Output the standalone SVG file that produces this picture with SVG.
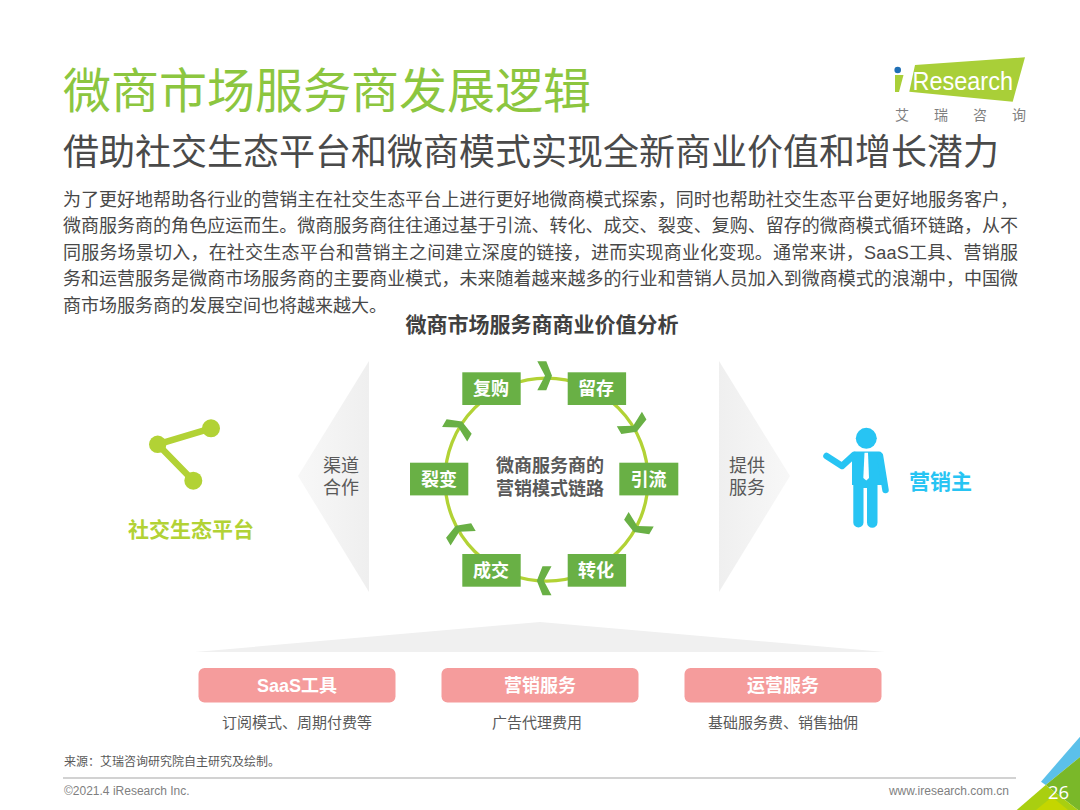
<svg xmlns="http://www.w3.org/2000/svg" width="1080" height="810" viewBox="0 0 1080 810">
<defs>
<style>
text{font-family:"Liberation Sans","Noto Sans CJK SC",sans-serif}
.b{font-size:18px;fill:#484848}
.bw{font-size:18px;font-weight:700;fill:#fff;text-anchor:middle}
.g{font-size:18px;fill:#595959;text-anchor:middle}
.s{font-size:15px;fill:#595959;text-anchor:middle}
.box{fill:#69b045}
.pink{fill:#f59c9c}
</style>
<linearGradient id="gl" x1="0" x2="1" y1="0" y2="0"><stop offset="0" stop-color="#f0f0f0" stop-opacity="0.5"/><stop offset="1" stop-color="#efefef"/></linearGradient>
<linearGradient id="gr" x1="1" x2="0" y1="0" y2="0"><stop offset="0" stop-color="#f0f0f0" stop-opacity="0.5"/><stop offset="1" stop-color="#efefef"/></linearGradient>
<polygon id="chev" points="537.3,361.2 546.3,361.2 552,375.7 546.3,390.2 537.3,390.2 545,375.7" fill="#69b045"/>
</defs>
<rect width="1080" height="810" fill="#fff"/>
<g id="header">
<text x="63" y="107.5" font-size="48" fill="#8cc63f">微商市场服务商发展逻辑</text>
<text x="63" y="165" font-size="36" fill="#4a4a4a">借助社交生态平台和微商模式实现全新商业价值和增长潜力</text>
<text class="b" x="63" y="205.5" textLength="955" lengthAdjust="spacing">为了更好地帮助各行业的营销主在社交生态平台上进行更好地微商模式探索，同时也帮助社交生态平台更好地服务客户，</text>
<text class="b" x="63" y="232" textLength="955" lengthAdjust="spacing">微商服务商的角色应运而生。微商服务商往往通过基于引流、转化、成交、裂变、复购、留存的微商模式循环链路，从不</text>
<text class="b" x="63" y="258.5" textLength="955" lengthAdjust="spacing">同服务场景切入，在社交生态平台和营销主之间建立深度的链接，进而实现商业化变现。通常来讲，SaaS工具、营销服</text>
<text class="b" x="63" y="285" textLength="955" lengthAdjust="spacing">务和运营服务是微商市场服务商的主要商业模式，未来随着越来越多的行业和营销人员加入到微商模式的浪潮中，中国微</text>
<text class="b" x="63" y="311.5">商市场服务商的发展空间也将越来越大。</text>
<text x="542" y="332" font-size="21" font-weight="700" fill="#404040" text-anchor="middle">微商市场服务商商业价值分析</text>
</g>
<g id="logo">
<polygon points="915,65 1025,57.3 1012.7,101.7 909.3,91.7" fill="#a9cf38"/>
<polygon points="895,75 903.5,75 899,92 895,92" fill="#a9cf38"/>
<circle cx="897.7" cy="70" r="3.3" fill="#1f6fb5"/>
<text x="912.5" y="89.5" font-size="26" fill="#fff" textLength="100.5" lengthAdjust="spacingAndGlyphs">Research</text>
<text x="895" y="120" font-size="14" fill="#7f7f7f">艾</text>
<text x="934" y="120" font-size="14" fill="#7f7f7f">瑞</text>
<text x="973" y="120" font-size="14" fill="#7f7f7f">咨</text>
<text x="1012" y="120" font-size="14" fill="#7f7f7f">询</text>
</g>
<g id="connectors">
<polygon points="369,361 369,592 298,476" fill="url(#gl)"/>
<polygon points="719,361 719,592 790,476" fill="url(#gr)"/>
<polygon points="195,652 540,622 885,652" fill="#f0f0f0"/>
<circle cx="546.5" cy="479.7" r="101.5" fill="none" stroke="#b2d235" stroke-width="3.3"/>
<use href="#chev"/>
<use href="#chev" transform="translate(-2.6 -0.7) rotate(60 546.5 479.7)"/>
<use href="#chev" transform="translate(0 -4.5) rotate(120 546.5 479.7)"/>
<use href="#chev" transform="translate(-4.2 -3) rotate(180 546.5 479.7)"/>
<use href="#chev" transform="translate(2.1 -1.3) rotate(240 546.5 479.7)"/>
<use href="#chev" transform="translate(2.8 -1.4) rotate(300 546.5 479.7)"/>
</g>
<g id="node-fugou"><rect class="box" x="462.3" y="372.3" width="58.4" height="32.7"/><text class="bw" x="491" y="395">复购</text></g>
<g id="node-liucun"><rect class="box" x="567.7" y="372.3" width="58.4" height="32.7"/><text class="bw" x="596" y="395">留存</text></g>
<g id="node-yinliu"><rect class="box" x="619.3" y="462.7" width="59" height="32.7"/><text class="bw" x="648.5" y="485.5">引流</text></g>
<g id="node-zhuanhua"><rect class="box" x="567.7" y="554" width="58.4" height="32.7"/><text class="bw" x="596" y="577">转化</text></g>
<g id="node-chengjiao"><rect class="box" x="462.3" y="554" width="58.4" height="32.7"/><text class="bw" x="491" y="577">成交</text></g>
<g id="node-liebian"><rect class="box" x="410" y="462.7" width="58.3" height="32.7"/><text class="bw" x="439" y="485.5">裂变</text></g>
<g id="node-center"><text x="550" y="472" font-size="18" font-weight="700" fill="#595959" text-anchor="middle">微商服务商的</text><text x="550" y="495" font-size="18" font-weight="700" fill="#595959" text-anchor="middle">营销模式链路</text></g>
<g id="label-qudao"><text class="g" x="341" y="472">渠道</text><text class="g" x="341" y="494">合作</text></g>
<g id="label-tigong"><text class="g" x="747" y="472">提供</text><text class="g" x="747" y="494">服务</text></g>
<g id="node-platform">
<path d="M211 428.3 157.7 444.3 193.3 480.7" stroke="#b2d235" stroke-width="6.5" fill="none"/>
<circle cx="157.7" cy="444.3" r="8.7" fill="#b2d235"/><circle cx="211" cy="428.3" r="9" fill="#b2d235"/><circle cx="193.3" cy="480.7" r="9" fill="#b2d235"/>
<text x="191" y="537" font-size="21" font-weight="700" fill="#b2d235" text-anchor="middle">社交生态平台</text>
</g>
<g id="node-advertiser" fill="#27c4f3">
<circle cx="866.3" cy="438.3" r="10.5"/>
<path d="M855 451.5H879Q882.5 451.5 882.8 456V485H877.5V522.5A5.25 5.25 0 0 1 867 522.5V488H863.5V522.5A5.1 5.1 0 0 1 853.3 522.5V485H852V462L852 455Q853 451.5 855 451.5Z"/>
<path d="M826.5 456 842 466 854 455M880 456 885.5 490" fill="none" stroke="#27c4f3" stroke-width="6.5" stroke-linecap="round" stroke-linejoin="round"/>
<polygon points="864.5,452.7 868,452.7 869,478 866.3,480.5 863.3,478" fill="#fff"/>
<text x="940.5" y="488.5" font-size="21" font-weight="700" text-anchor="middle">营销主</text>
</g>
<g id="node-saas"><rect class="pink" x="198.5" y="668" width="197" height="34.5" rx="6"/><text class="bw" x="297" y="691.5">SaaS工具</text><text class="s" x="297" y="728">订阅模式、周期付费等</text></g>
<g id="node-marketing"><rect class="pink" x="441.5" y="668" width="197" height="34.5" rx="6"/><text class="bw" x="540" y="691.5">营销服务</text><text class="s" x="537" y="728">广告代理费用</text></g>
<g id="node-ops"><rect class="pink" x="684.5" y="668" width="197" height="34.5" rx="6"/><text class="bw" x="783" y="691.5">运营服务</text><text class="s" x="783" y="728">基础服务费、销售抽佣</text></g>
<g id="footer">
<text x="64" y="765.5" font-size="12" fill="#595959">来源：艾瑞咨询研究院自主研究及绘制。</text>
<line x1="63" y1="778" x2="1016" y2="778" stroke="#a6a6a6" stroke-width="1.2"/>
<text x="64" y="795" font-size="12" fill="#7f7f7f">©2021.4 iResearch Inc.</text>
<text x="1009" y="795" font-size="12" fill="#7f7f7f" text-anchor="end">www.iresearch.com.cn</text>
<polygon points="1041,781.7 1080,736.7 1080,757 1045.7,785" fill="#5bc0ea"/>
<polygon points="1045.7,785 1080,757 1080,810 1078,810" fill="#7ab829"/>
<polygon points="1016.7,810 1045.7,785 1078,810" fill="#a9cf10"/>
<polygon points="1036,810 1052,797 1068,810" fill="#c4d600"/>
<text x="1058.5" y="798.5" fill="#fff" text-anchor="middle" style="font-family:'Open Sans',sans-serif;font-size:18.5px">26</text>
</g>
</svg>
